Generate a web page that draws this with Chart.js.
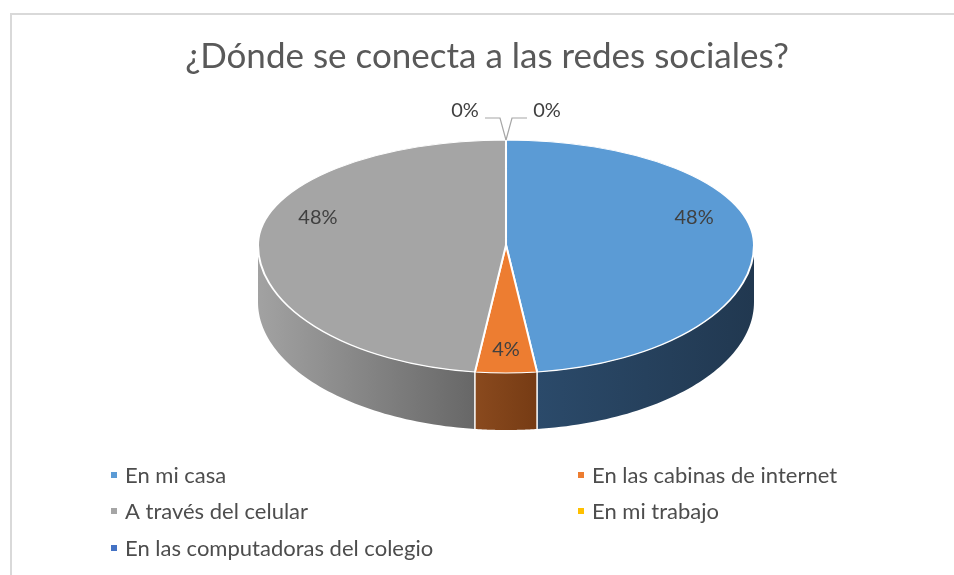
<!doctype html>
<html>
<head>
<meta charset="utf-8">
<title>Redes sociales</title>
<style>
  html, body { margin: 0; padding: 0; background: #fff; }
  #wrap { position: relative; width: 954px; height: 575px; }
</style>
</head>
<body>
<div id="wrap"><canvas id="chart"></canvas></div>

<script src="https://cdn.jsdelivr.net/npm/chart.js"></script>
<script>
  // data
  const chartTitle = '¿Dónde se conecta a las redes sociales?'
  const categories = ['En mi casa', 'En las cabinas de internet', 'A través del celular', 'En mi trabajo', 'En las computadoras del colegio']
  const answers = [12, 1, 12, 0, 0]

  // styles
  const sliceColors = ['#5b9bd5', '#ed7d31', '#a5a5a5', '#ffc000', '#4472c4']
  const wallColors = [
    ['#2b4a6a', '#213850'],
    ['#8a4a1e', '#763b14'],
    ['#a2a2a2', '#676767'],
    ['#a37b00', '#806000'],
    ['#2c4a80', '#223a66'],
  ]
  const FONT = 'Lato, "Open Sans", sans-serif'
  const TEXT = '#595959'

  // where the tilted pie sits on the page (back half is flatter than the front, like a perspective view)
  const pie = { cx: 506, cy: 245, rx: 248, ryBack: 105, ryFront: 128, depth: 57, lift: 22 }

  function rimPoint(a, dy) {
    const s = Math.sin(a)
    const ry = s < 0 ? pie.ryBack : pie.ryFront
    return [pie.cx + pie.rx * Math.cos(a), pie.cy + ry * s + (dy || 0)]
  }

  const tiltPlugin = {
    id: 'tilt',
    beforeDraw(chart) {
      const ctx = chart.ctx
      ctx.save()
      ctx.strokeStyle = '#d9d9d9'
      ctx.lineWidth = 2
      ctx.beginPath()
      ctx.moveTo(11, 575)
      ctx.lineTo(11, 14)
      ctx.lineTo(954, 14)
      ctx.stroke()
      ctx.restore()
    },
    beforeDatasetsDraw(chart) {
      const ctx = chart.ctx
      const meta = chart.getDatasetMeta(0)
      const arcs = meta.data

      // side walls, front half only
      arcs.forEach((arc, i) => {
        const a0 = Math.max(arc.startAngle, 0)
        const a1 = Math.min(arc.endAngle, Math.PI)
        if (a1 <= a0) return
        const xl = rimPoint(a1)[0], xr = rimPoint(a0)[0]
        const g = ctx.createLinearGradient(xl, 0, xr, 0)
        g.addColorStop(0, wallColors[i][0])
        g.addColorStop(1, wallColors[i][1])
        ctx.beginPath()
        const steps = 60
        for (let k = 0; k <= steps; k++) {
          const p = rimPoint(a0 + (a1 - a0) * k / steps)
          k ? ctx.lineTo(p[0], p[1]) : ctx.moveTo(p[0], p[1])
        }
        for (let k = steps; k >= 0; k--) {
          const p = rimPoint(a0 + (a1 - a0) * k / steps, pie.depth)
          ctx.lineTo(p[0], p[1])
        }
        ctx.closePath()
        ctx.fillStyle = g
        ctx.fill()
      })

      // white seams on the wall
      ctx.save()
      ctx.strokeStyle = '#ffffff'
      ctx.lineWidth = 1.5
      arcs.forEach(arc => {
        const a = arc.endAngle
        if (a > 0 && a < Math.PI && arc.circumference > 0) {
          const p = rimPoint(a), q = rimPoint(a, pie.depth)
          ctx.beginPath()
          ctx.moveTo(p[0], p[1])
          ctx.lineTo(q[0], q[1])
          ctx.stroke()
        }
      })
      ctx.restore()

      // top face: draw the round pie twice, squashed differently for back and front halves
      const a = arcs[0]
      const halves = [
        { ry: pie.ryBack, y: 0, h: pie.cy },
        { ry: pie.ryFront, y: pie.cy, h: chart.height - pie.cy },
      ]
      halves.forEach(half => {
        ctx.save()
        ctx.beginPath()
        ctx.rect(0, half.y, chart.width, half.h)
        ctx.clip()
        ctx.translate(pie.cx, pie.cy)
        ctx.scale(pie.rx / a.outerRadius, half.ry / a.outerRadius)
        ctx.translate(-a.x, -a.y)
        meta.controller.draw()
        ctx.restore()
      })
      return false
    },
    afterDraw(chart) {
      const ctx = chart.ctx
      const arcs = chart.getDatasetMeta(0).data
      const values = chart.data.datasets[0].data
      const total = values.reduce((s, v) => s + v, 0)

      // data labels
      ctx.save()
      ctx.font = '20px ' + FONT
      ctx.fillStyle = '#404040'
      ctx.textAlign = 'center'
      ctx.textBaseline = 'middle'
      let zeroSide = -1
      arcs.forEach((arc, i) => {
        const pct = Math.round(values[i] / total * 100) + '%'
        const mid = (arc.startAngle + arc.endAngle) / 2
        if (values[i] > 0) {
          const s = Math.sin(mid)
          const ry = s < 0 ? pie.ryBack : pie.ryFront
          const x = pie.cx + 0.76 * pie.rx * Math.cos(mid)
          const y = pie.cy + 0.82 * ry * s - pie.lift * Math.abs(Math.cos(mid))
          ctx.fillText(pct, x, y)
        } else {
          // zero slices: outside label with a leader line
          const p = rimPoint(mid)
          const elbow = [p[0] + zeroSide * 6, p[1] - 22]
          const end = [p[0] + zeroSide * 21, p[1] - 22]
          ctx.save()
          ctx.strokeStyle = '#a6a6a6'
          ctx.lineWidth = 1.2
          ctx.beginPath()
          ctx.moveTo(p[0], p[1])
          ctx.lineTo(elbow[0], elbow[1])
          ctx.lineTo(end[0], end[1])
          ctx.stroke()
          ctx.restore()
          ctx.fillText(pct, end[0] + zeroSide * 20, end[1] - 7)
          zeroSide = -zeroSide
        }
      })
      ctx.restore()

      // two-column legend
      const cols = [111, 578]
      const rows = [475, 511, 548]
      ctx.save()
      ctx.font = '22px ' + FONT
      ctx.textBaseline = 'middle'
      chart.data.labels.forEach((label, i) => {
        const x = cols[i % 2]
        const y = rows[Math.floor(i / 2)]
        ctx.fillStyle = sliceColors[i]
        ctx.fillRect(x, y - 3, 6, 6)
        ctx.fillStyle = '#4d4d4d'
        ctx.fillText(label, x + 14, y + 1)
      })
      ctx.restore()
    }
  }

  new Chart(document.getElementById('chart'), {
    type: 'pie',
    data: {
      labels: categories,
      datasets: [{
        data: answers,
        backgroundColor: sliceColors,
        borderColor: '#ffffff',
        borderWidth: 2,
      }]
    },
    options: {
      responsive: true,
      maintainAspectRatio: false,
      animation: false,
      layout: { padding: { left: 20, right: 0, top: 0, bottom: 0 } },
      plugins: {
        title: {
          display: true,
          text: chartTitle,
          color: TEXT,
          font: { family: FONT, size: 35, weight: 'normal' },
          padding: { top: 36, bottom: 10 }
        },
        legend: { display: false },
        tooltip: { enabled: false }
      }
    },
    plugins: [tiltPlugin]
  })
</script>
</body>
</html>
